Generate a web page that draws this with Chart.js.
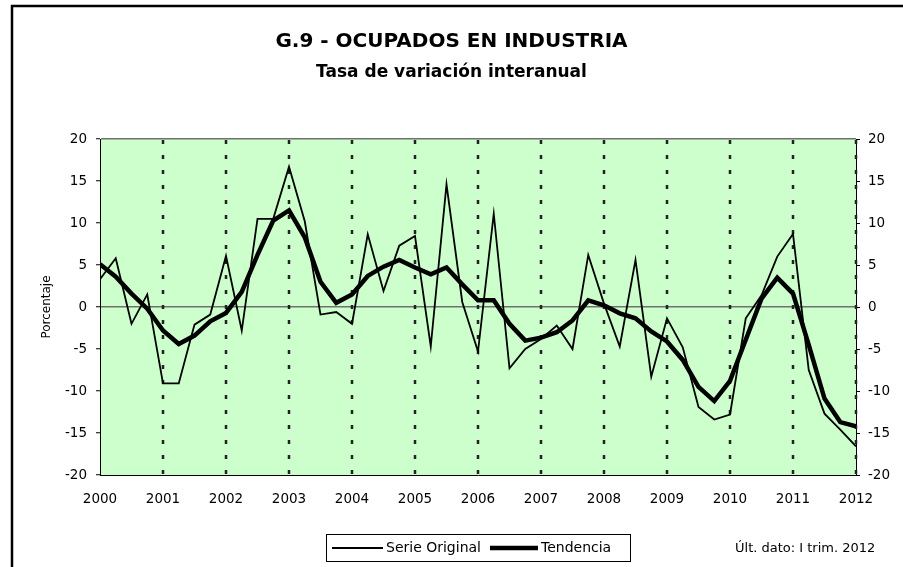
<!DOCTYPE html>
<html>
<head>
<meta charset="utf-8">
<title>G.9 - Ocupados en industria</title>
<script src="https://cdn.jsdelivr.net/npm/chart.js@4.4.1/dist/chart.umd.min.js"></script>
<style>
  html, body { margin: 0; padding: 0; background: #fff; }
  #wrap { position: relative; width: 903px; height: 567px; }
</style>
</head>
<body>
<div id="wrap"><canvas id="chart"></canvas></div>
<script>
// quarterly data, 2000 I .. 2012 I (one point per quarter)
const years = ['2000', '2001', '2002', '2003', '2004', '2005', '2006',
               '2007', '2008', '2009', '2010', '2011', '2012'];

const serieOriginal = [
  3.3, 5.8, -2.0, 1.5,
  -9.1, -9.1, -2.1, -0.9,
  6.1, -2.8, 10.5, 10.5,
  16.7, 10.2, -0.9, -0.6,
  -2.0, 8.65, 1.9, 7.3,
  8.45, -4.7, 14.6, 0.6,
  -5.3, 11.1, -7.3, -5.0,
  -3.8, -2.2, -5.0, 6.2,
  0.4, -4.7, 5.6, -8.3,
  -1.35, -4.8, -11.9, -13.4,
  -12.8, -1.35, 1.4, 6.0,
  8.7, -7.5, -12.7, -14.6,
  -16.6
];

const tendencia = [
  5.1, 3.6, 1.6, -0.2,
  -2.8, -4.4, -3.4, -1.7,
  -0.7, 1.8, 6.2, 10.3,
  11.5, 8.3, 3.0, 0.5,
  1.5, 3.7, 4.8, 5.6,
  4.7, 3.9, 4.7, 2.7,
  0.8, 0.8, -2.0, -4.0,
  -3.65, -3.0, -1.6, 0.8,
  0.2, -0.75, -1.35, -2.9,
  -4.1, -6.3, -9.5, -11.2,
  -8.8, -3.9, 1.0, 3.5,
  1.6, -4.5, -10.9, -13.7,
  -14.2
];

const chartTitle = 'G.9 - OCUPADOS EN INDUSTRIA';
const chartSubtitle = 'Tasa de variación interanual';
const yTitle = 'Porcentaje';
const lastData = 'Últ. dato: I trim. 2012';

const toPoints = arr => arr.map((v, i) => ({x: i, y: v}));

Chart.defaults.font.family = "'DejaVu Sans', sans-serif";
Chart.defaults.color = '#000';

// green plot background, dashed year separators, legend box, footnote, frame
const decor = {
  id: 'decor',
  beforeDraw(chart) {
    const {ctx, chartArea: a} = chart;
    ctx.save();
    ctx.fillStyle = '#fff';
    ctx.fillRect(0, 0, chart.width, chart.height);
    ctx.fillStyle = '#ccffcc';
    ctx.fillRect(a.left, a.top, a.right - a.left, a.bottom - a.top);
    ctx.restore();
  },
  beforeDatasetsDraw(chart) {
    const {ctx, chartArea: a, scales: {x}} = chart;
    ctx.save();
    ctx.strokeStyle = '#222';
    ctx.lineWidth = 2.5;
    ctx.setLineDash([4, 11]);
    for (let i = 1; i < years.length; i++) {
      const px = Math.round(x.getPixelForValue(i * 4));
      ctx.beginPath();
      ctx.moveTo(px, a.top + 1);
      ctx.lineTo(px, a.bottom);
      ctx.stroke();
    }
    ctx.restore();
  },
  afterDraw(chart) {
    const ctx = chart.ctx;
    const ds = chart.data.datasets;
    ctx.save();

    // legend
    ctx.fillStyle = '#fff';
    ctx.fillRect(326, 534, 304, 27);
    ctx.strokeStyle = '#000';
    ctx.lineWidth = 1;
    ctx.strokeRect(326.5, 534.5, 304, 27);
    ctx.font = "14px 'DejaVu Sans'";
    ctx.textBaseline = 'middle';
    ctx.fillStyle = '#000';
    ctx.lineWidth = ds[0].borderWidth;
    ctx.beginPath(); ctx.moveTo(332, 548); ctx.lineTo(383, 548); ctx.stroke();
    ctx.fillText(ds[0].label, 386, 548);
    ctx.lineWidth = ds[1].borderWidth;
    ctx.beginPath(); ctx.moveTo(490, 548); ctx.lineTo(538, 548); ctx.stroke();
    ctx.fillText(ds[1].label, 541, 548);

    // footnote
    ctx.font = "13px 'DejaVu Sans'";
    ctx.fillText(lastData, 735, 549);

    // outer frame
    ctx.lineWidth = 2.5;
    ctx.beginPath();
    ctx.moveTo(12, chart.height + 5);
    ctx.lineTo(12, 6);
    ctx.lineTo(chart.width + 5, 6);
    ctx.stroke();
    ctx.restore();
  }
};

new Chart(document.getElementById('chart'), {
  type: 'line',
  data: {
    datasets: [
      {
        label: 'Serie Original',
        data: toPoints(serieOriginal),
        borderColor: '#000',
        borderWidth: 1.8,
        pointRadius: 0,
        tension: 0,
        yAxisID: 'y'
      },
      {
        label: 'Tendencia',
        data: toPoints(tendencia),
        borderColor: '#000',
        borderWidth: 4.5,
        pointRadius: 0,
        tension: 0,
        yAxisID: 'y'
      }
    ]
  },
  options: {
    responsive: true,
    maintainAspectRatio: false,
    devicePixelRatio: 1,
    animation: false,
    layout: { padding: 0 },
    plugins: {
      legend: { display: false },
      tooltip: { enabled: false },
      title: {
        display: true,
        text: chartTitle,
        color: '#000',
        font: { size: 20, weight: 'bold' },
        padding: { top: 30, bottom: 8.8 }
      },
      subtitle: {
        display: true,
        text: chartSubtitle,
        color: '#000',
        font: { size: 17, weight: 'bold' },
        padding: { top: 0, bottom: 55.8 }
      }
    },
    scales: {
      x: {
        type: 'linear',
        min: 0,
        max: 48,
        afterFit(s) { s.height = 92; },
        grid: { color: 'transparent', drawTicks: false },
        border: { color: '#000', width: 1 },
        ticks: {
          stepSize: 4,
          padding: 16,
          autoSkip: false,
          maxRotation: 0,
          font: { size: 13.5 },
          color: '#000',
          callback: v => years[v / 4] ?? ''
        }
      },
      y: {
        position: 'left',
        min: -20,
        max: 20,
        afterFit(s) { s.width = 100; },
        ticks: { stepSize: 5, padding: 9, font: { size: 13.5 }, color: '#000' },
        grid: {
          color: c => (c.tick && (c.tick.value === 0 || c.tick.value === 20)) ? '#707070' : 'transparent',
          lineWidth: 1.5,
          tickColor: '#000',
          tickLength: 4,
          tickWidth: 1
        },
        border: { color: '#000', width: 1 },
        title: {
          display: true,
          text: yTitle,
          color: '#000',
          font: { size: 12 },
          padding: { top: 40, bottom: 0 }
        }
      },
      y2: {
        position: 'right',
        min: -20,
        max: 20,
        afterFit(s) { s.width = 47; },
        ticks: { stepSize: 5, padding: 8, font: { size: 13.5 }, color: '#000' },
        grid: { drawOnChartArea: false, tickColor: '#000', tickLength: 4, tickWidth: 1 },
        border: { color: '#000', width: 1 }
      }
    }
  },
  plugins: [decor]
});
</script>
</body>
</html>
